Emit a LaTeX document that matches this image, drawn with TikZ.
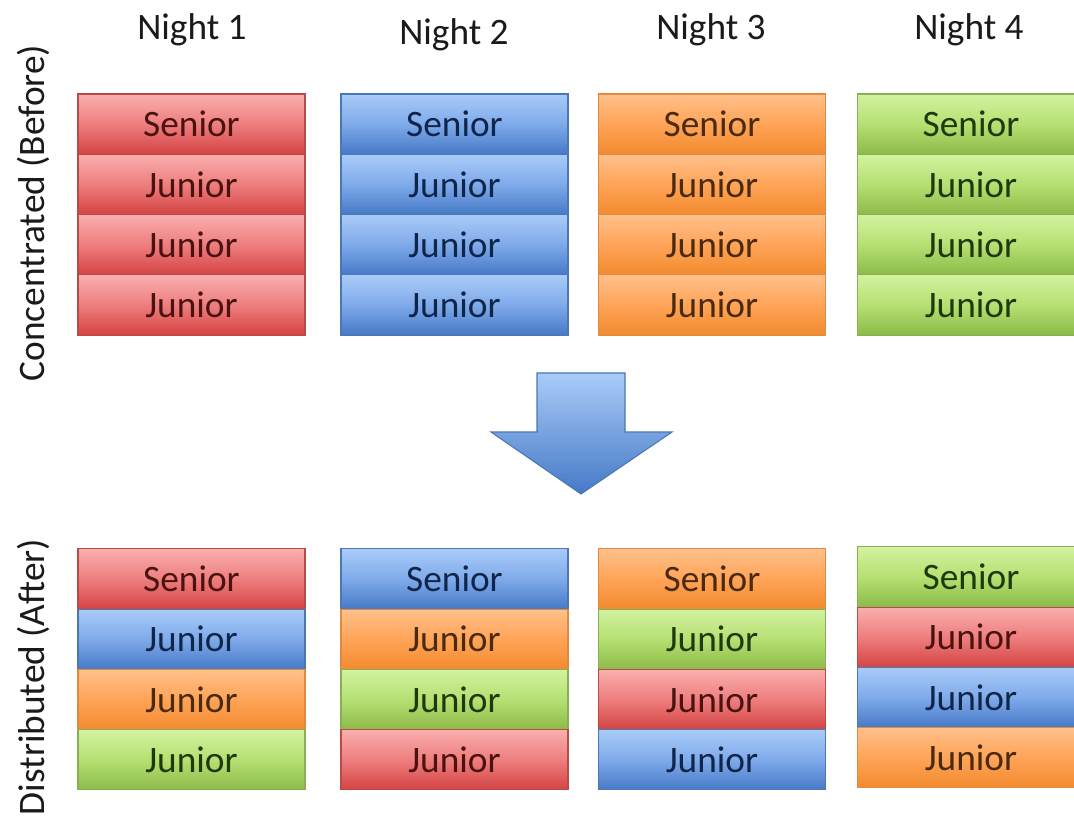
\documentclass[tikz,border=0pt]{standalone}
\usepackage{fontspec}
\setmainfont{Carlito}
\definecolor{rtop}{HTML}{F9AFAE}
\definecolor{rmid}{HTML}{EE7E7E}
\definecolor{rbot}{HTML}{D44343}
\definecolor{rdraw}{HTML}{B84A48}
\definecolor{rtext}{HTML}{4A1210}
\definecolor{btop}{HTML}{A9CBF8}
\definecolor{bmid}{HTML}{7FAAEA}
\definecolor{bbot}{HTML}{4679C6}
\definecolor{bdraw}{HTML}{4A78B4}
\definecolor{btext}{HTML}{10254A}
\definecolor{otop}{HTML}{FFC08A}
\definecolor{omid}{HTML}{FFA458}
\definecolor{obot}{HTML}{F28A2E}
\definecolor{odraw}{HTML}{E08A40}
\definecolor{otext}{HTML}{4A2A10}
\definecolor{gtop}{HTML}{D3F2A0}
\definecolor{gmid}{HTML}{B5E072}
\definecolor{gbot}{HTML}{8CBA48}
\definecolor{gdraw}{HTML}{8AAE55}
\definecolor{gtext}{HTML}{1E3A0C}
\definecolor{labtext}{HTML}{1A1A1A}
\tikzset{
  x=0.75pt, y=-0.75pt,
  cell/.style={minimum width=170.25pt, minimum height=45.2pt, inner sep=0pt, outer sep=0pt,
    line width=0.8pt, font=\fontsize{28}{34}\selectfont},
  cred/.style={cell, top color=rtop, bottom color=rbot, middle color=rmid, draw=rdraw, text=rtext},
  cblue/.style={cell, top color=btop, bottom color=bbot, middle color=bmid, draw=bdraw, text=btext},
  corange/.style={cell, top color=otop, bottom color=obot, middle color=omid, draw=odraw, text=otext},
  cgreen/.style={cell, top color=gtop, bottom color=gbot, middle color=gmid, draw=gdraw, text=gtext},
  lab/.style={font=\fontsize{28}{34}\selectfont, text=labtext, inner sep=0pt},
}
\begin{document}
\begin{tikzpicture}
\useasboundingbox[fill=white] (0,0) rectangle (1074,818);
% headers
\node[lab] (n1) at (192,30) {Night 1};
\node[lab] (n2) at (454,35) {Night 2};
\node[lab] (n3) at (711,30) {Night 3};
\node[lab] (n4) at (969,30) {Night 4};
\node[lab, rotate=90] (lc) at (33,213) {Concentrated (Before)};
\node[lab, rotate=90] (ld) at (33,677) {Distributed (After)};
% top (before)
\foreach \c/\x/\s in {1/191.5/cred, 2/454.5/cblue, 3/712/corange, 4/971/cgreen}{
  \node[\s] (t\c1) at (\x,124.1) {Senior};
  \node[\s] (t\c2) at (\x,184.4) {Junior};
  \node[\s] (t\c3) at (\x,244.6) {Junior};
  \node[\s] (t\c4) at (\x,304.9) {Junior};
}
% bottom (after)
\foreach \c/\x/\y/\sa/\sb/\sc/\sd in {
  1/191.5/579/cred/cblue/corange/cgreen,
  2/454.5/579/cblue/corange/cgreen/cred,
  3/712/579/corange/cgreen/cred/cblue,
  4/971/577/cgreen/cred/cblue/corange}{
  \node[\sa] (b\c1) at (\x,\y) {Senior};
  \node[\sb] (b\c2) at (\x,\y+60.25) {Junior};
  \node[\sc] (b\c3) at (\x,\y+120.5) {Junior};
  \node[\sd] (b\c4) at (\x,\y+180.75) {Junior};
}
% arrow
\path[top color=btop, bottom color=bbot, draw=bdraw, line width=0.8pt]
  (537,373) -- (625,373) -- (625,432) -- (672,432) -- (581,494) -- (491,432) -- (537,432) -- cycle;
\end{tikzpicture}
\end{document}
